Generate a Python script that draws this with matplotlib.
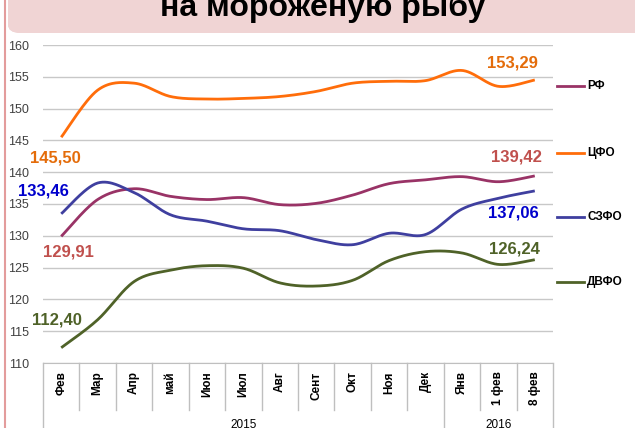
import numpy as np
import matplotlib
matplotlib.use("Agg")
import matplotlib.pyplot as plt
from matplotlib.patches import FancyBboxPatch
from matplotlib.lines import Line2D
from matplotlib.colors import LinearSegmentedColormap

plt.rcParams['font.family'] = ['Liberation Sans', 'DejaVu Sans']

categories = ["Фев", "Мар", "Апр", "май", "Июн", "Июл", "Авг", "Сент",
              "Окт", "Ноя", "Дек", "Янв", "1 фев", "8 фев"]
years = ["2015", "2016"]

rf   = [129.91, 135.7, 137.4, 136.2, 135.7, 136.0, 134.9, 135.1, 136.4, 138.2, 138.8, 139.3, 138.5, 139.42]
cfo  = [145.50, 152.9, 154.0, 151.9, 151.5, 151.6, 151.9, 152.7, 154.0, 154.3, 154.4, 156.0, 153.5, 154.5]
szfo = [133.46, 138.3, 136.8, 133.3, 132.3, 131.1, 130.8, 129.4, 128.6, 130.4, 130.2, 134.2, 135.9, 137.06]
dvfo = [112.40, 116.8, 122.8, 124.6, 125.3, 124.9, 122.6, 122.1, 123.0, 126.1, 127.5, 127.3, 125.5, 126.24]

series_names = ["РФ", "ЦФО", "СЗФО", "ДВФО"]
series_vals = [rf, cfo, szfo, dvfo]
series_colors = ["#993366", "#FF6D0A", "#3F3F9F", "#4F6228"]

left_labels = ["129,91", "145,50", "133,46", "112,40"]
right_labels = ["139,42", "153,29", "137,06", "126,24"]
label_colors = ["#C0504D", "#E46C0A", "#0000CC", "#4F6228"]


def smooth(y, n=30):
    y = np.asarray(y, float)
    x = np.arange(len(y), dtype=float)
    xs, ys = [], []
    for i in range(len(y) - 1):
        p0 = np.array([x[max(i - 1, 0)], y[max(i - 1, 0)]])
        p1 = np.array([x[i], y[i]])
        p2 = np.array([x[i + 1], y[i + 1]])
        p3 = np.array([x[min(i + 2, len(y) - 1)], y[min(i + 2, len(y) - 1)]])
        c1 = p1 + (p2 - p0) / 6.0
        c2 = p2 - (p3 - p1) / 6.0
        t = np.linspace(0, 1, n, endpoint=(i == len(y) - 2))[:, None]
        b = ((1 - t) ** 3) * p1 + 3 * ((1 - t) ** 2) * t * c1 + 3 * (1 - t) * t ** 2 * c2 + t ** 3 * p2
        xs.append(b[:, 0]); ys.append(b[:, 1])
    return np.concatenate(xs), np.concatenate(ys)


W, H = 635, 428
fig = plt.figure(figsize=(W / 100, H / 100), dpi=100)
fig.patch.set_facecolor("white")

# header band with gradient
hdr = FancyBboxPatch((8 / W, (H - 33) / H), (W + 20 - 8) / W, 60 / H,
                     boxstyle="round,pad=0,rounding_size=0.02",
                     transform=fig.transFigure, facecolor="#F0D4D4",
                     edgecolor="none", zorder=0)
fig.patches.append(hdr)
gax = fig.add_axes([0, 0, 1, 1], zorder=0)
gax.set_axis_off()
grad = np.linspace(0, 1, 100)[:, None]
cm = LinearSegmentedColormap.from_list("g", ["#F2DCDB", "#E9C4C4"])
im = gax.imshow(grad, cmap=cm, aspect="auto", extent=[0, 1, (H - 33) / H, 1.0],
                transform=fig.transFigure, origin="lower")
im.set_clip_path(hdr)
fig.text(323 / W, (H - 16) / H, "на мороженую рыбу", ha="center", va="baseline",
         fontsize=23, fontweight="bold", color="black")

# left pink border line
fig.add_artist(Line2D([5 / W, 5 / W], [0, 1], transform=fig.transFigure,
                      color="#E39C9C", lw=1.5))

ax_l, ax_r, ax_t, ax_b = 43, 553, 45, 363
ax = fig.add_axes([ax_l / W, (H - ax_b) / H, (ax_r - ax_l) / W, (ax_b - ax_t) / H])
n = len(categories)
ax.set_xlim(-0.5, n - 0.5)
ax.set_ylim(110, 160)
ax.set_yticks(np.arange(110, 161, 5))
ax.yaxis.grid(True, color="#C8C8C8", lw=1.0)
ax.set_axisbelow(True)
for s in ["left", "right", "top"]:
    ax.spines[s].set_visible(False)
ax.spines["bottom"].set_color("#BFBFBF")
ax.tick_params(axis="y", length=0, pad=10, labelsize=9, labelcolor="#404040")
ax.set_xticks(range(n))
ax.set_xticklabels(categories, rotation=90, fontsize=8.5, fontweight="bold", va="top")
ax.tick_params(axis="x", length=0, pad=6)

for vals, col in zip(series_vals, series_colors):
    xs, ys = smooth(vals)
    ax.plot(xs, ys, color=col, lw=2.0, solid_capstyle="butt", clip_on=False)

# category separators
trans = ax.get_xaxis_transform()
ph = ax_b - ax_t
def ay(p):
    return (ax_b - p) / ph
for i in range(n + 1):
    xb = i - 0.5
    if i in (0, 11, n):
        y1 = ay(H)
    else:
        y1 = ay(410)
    ax.add_line(Line2D([xb, xb], [0, y1], transform=trans, color="#BFBFBF",
                       lw=1.0, clip_on=False))
ax.text(5.0, ay(419), years[0], transform=trans, ha="center", va="top", fontsize=8.5)
ax.text(12.0, ay(419), years[1], transform=trans, ha="center", va="top", fontsize=8.5)

# data labels
left_pos = [(0.19, 127.5), (-0.17, 142.26), (-0.5, 137.1), (-0.12, 116.8)]
right_pos = [(12.49, 142.4), (12.38, 157.2), (12.41, 133.6), (12.44, 128.0)]
for lab, pos, col in zip(left_labels, left_pos, label_colors):
    ax.text(pos[0], pos[1], lab, color=col, fontsize=12, fontweight="bold",
            ha="center", va="center")
for lab, pos, col in zip(right_labels, right_pos, label_colors):
    ax.text(pos[0], pos[1], lab, color=col, fontsize=12, fontweight="bold",
            ha="center", va="center")

# legend
leg_y = [86, 153, 217, 282]
for name, col, yy in zip(series_names, series_colors, leg_y):
    fig.add_artist(Line2D([557 / W, 584 / W], [(H - yy) / H] * 2,
                          transform=fig.transFigure, color=col, lw=2.0))
    fig.text(587 / W, (H - yy) / H, name, ha="left", va="center",
             fontsize=8.5, fontweight="bold", color="black")

fig.savefig("out.png", dpi=100)
